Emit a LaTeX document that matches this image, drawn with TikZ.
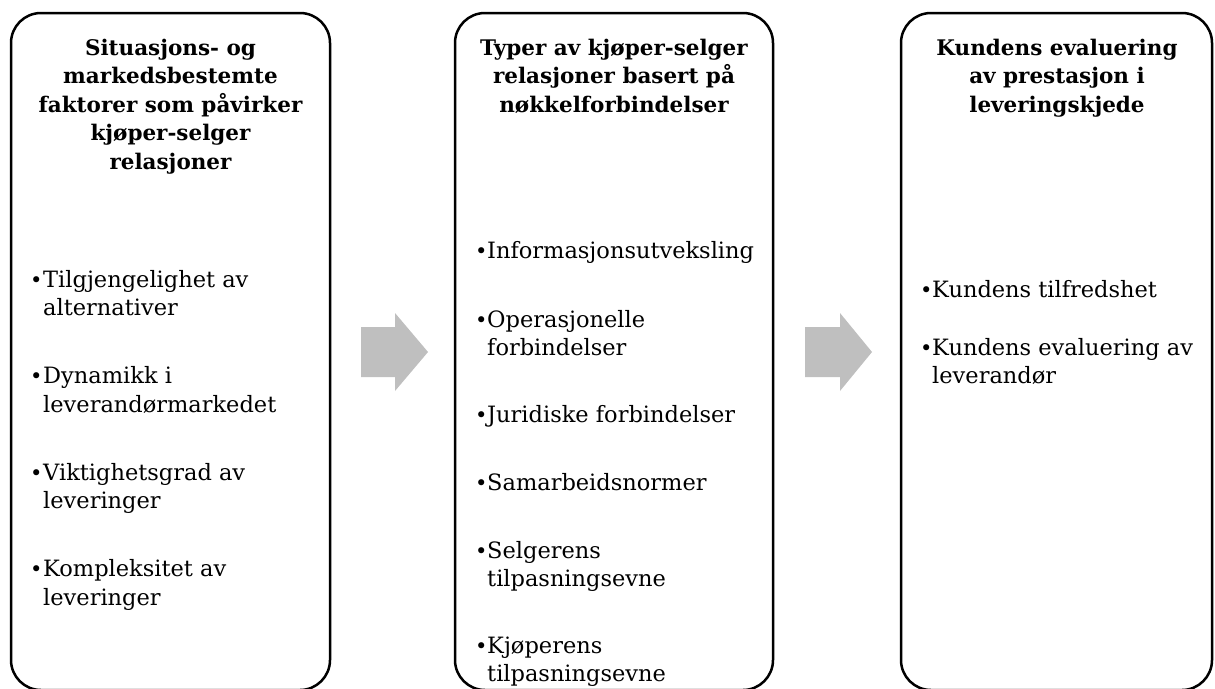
\documentclass[tikz,border=0pt]{standalone}
\usepackage{fontspec}
\setmainfont{DejaVu Serif}
\definecolor{arrowgray}{RGB}{191,191,191}
\begin{document}
\begin{tikzpicture}[x=1pt,y=-1pt,
  box/.style={draw=black, line width=2.5pt, rounded corners=30pt, anchor=north west, inner sep=0pt, outer sep=0pt},
  ttl/.style={font=\bfseries\fontsize{21.5}{28.5}\selectfont, align=center, anchor=base, inner sep=0pt},
  bul/.style={font=\fontsize{21}{28.5}\selectfont, anchor=base west, inner sep=0pt},
  itm/.style={font=\fontsize{22.5}{28.5}\selectfont, align=left, anchor=base west, inner sep=0pt},
  flow/.style={fill=arrowgray}]
\useasboundingbox (0,0) rectangle (1215,688);
% boxes
\node[box, minimum width=319pt, minimum height=677pt] (b1) at (11,13) {};
\node[box, minimum width=318pt, minimum height=677pt] (b2) at (455,13) {};
\node[box, minimum width=311pt, minimum height=677pt] (b3) at (901,13) {};
% arrows
\fill[flow] (361,327) -- (395,327) -- (395,313) -- (428,352) -- (395,391) -- (395,377) -- (361,377) -- cycle;
\fill[flow] (805,327) -- (840,327) -- (840,313) -- (872,352) -- (840,391) -- (840,377) -- (805,377) -- cycle;
% titles (anchored at the baseline of the last line)
\node[ttl] (t1) at (170.5,169) {Situasjons- og\\markedsbestemte\\faktorer som påvirker\\kjøper-selger\\relasjoner};
\node[ttl] (t2) at (614,112) {Typer av kjøper-selger\\relasjoner basert på\\nøkkelforbindelser};
\node[ttl] (t3) at (1057,112) {Kundens evaluering\\av prestasjon i\\leveringskjede};
% box 1 items
\node[bul] (p11) at (30,287) {•};
\node[itm] (i11) at (43,315.5) {Tilgjengelighet av\\alternativer};
\node[bul] (p12) at (30,383.5) {•};
\node[itm] (i12) at (43,412) {Dynamikk i\\leverandørmarkedet};
\node[bul] (p13) at (30,480) {•};
\node[itm] (i13) at (43,508.5) {Viktighetsgrad av\\leveringer};
\node[bul] (p14) at (30,576.5) {•};
\node[itm] (i14) at (43,605) {Kompleksitet av\\leveringer};
% box 2 items
\node[bul] (p21) at (475,258) {•};
\node[itm] (i21) at (487,258) {Informasjonsutveksling};
\node[bul] (p22) at (475,327) {•};
\node[itm] (i22) at (487,355.5) {Operasjonelle\\forbindelser};
\node[bul] (p23) at (475,422) {•};
\node[itm] (i23) at (487,422) {Juridiske forbindelser};
\node[bul] (p24) at (475,490) {•};
\node[itm] (i24) at (487,490) {Samarbeidsnormer};
\node[bul] (p25) at (475,558) {•};
\node[itm] (i25) at (487,586.5) {Selgerens\\tilpasningsevne};
\node[bul] (p26) at (475,653) {•};
\node[itm] (i26) at (487,681.5) {Kjøperens\\tilpasningsevne};
% box 3 items
\node[bul] (p31) at (920,297) {•};
\node[itm] (i31) at (932,297) {Kundens tilfredshet};
\node[bul] (p32) at (920,355) {•};
\node[itm] (i32) at (932,383.5) {Kundens evaluering av\\leverandør};
\end{tikzpicture}
\end{document}
